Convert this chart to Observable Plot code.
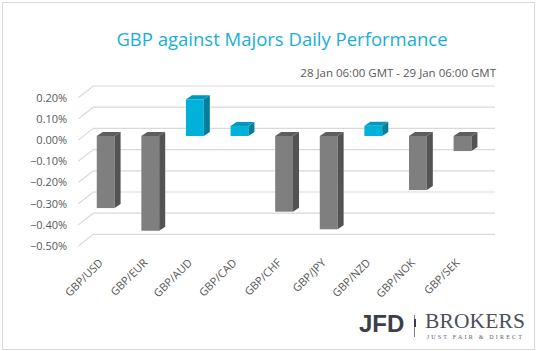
<!DOCTYPE html>
<html>
<head>
<meta charset="utf-8">
<script src="https://cdn.jsdelivr.net/npm/d3@7"></script>
<script src="https://cdn.jsdelivr.net/npm/@observablehq/plot@0.6"></script>
<style>
  html, body { margin: 0; padding: 0; background: #fff; }
  #wrap { position: relative; width: 538px; height: 351px; overflow: hidden; background: #fff; font-family: "Open Sans", sans-serif; }
  #frame { position: absolute; left: 2px; top: 2px; width: 531px; height: 346px; border: 1px solid #d9d9d9; }
  #title { position: absolute; left: 282px; top: 30px; transform: translateX(-50%); white-space: nowrap; font-size: 18.5px; line-height: 1; color: #17aed8; }
  #subtitle { position: absolute; right: 42px; top: 67px; white-space: nowrap; font-size: 11.5px; line-height: 1; color: #595959; }
  #chart { position: absolute; left: 0; top: 80px; }
  .logo { position: absolute; white-space: nowrap; line-height: 1; }
  #jfd { left: 359px; top: 311.7px; font-family: "Liberation Sans", Arial, sans-serif; font-weight: bold; font-size: 24px; color: #3b4048; }
  #sep1 { position: absolute; left: 414px; top: 315px; width: 1px; height: 22px; background: #7a7f87; }
  #sep2 { position: absolute; left: 413.5px; top: 319px; width: 2px; height: 8px; background: #3b4048; }
  #brokers { left: 425px; top: 311px; font-family: "Liberation Serif", "Times New Roman", serif; font-size: 21.5px; color: #4b5059; }
  #tag { left: 426.7px; top: 334.3px; font-family: "Liberation Serif", "Times New Roman", serif; font-size: 6px; color: #5b6069; }
</style>
</head>
<body>
<div id="wrap">
  <div id="frame"></div>
  <div id="title">GBP against Majors Daily Performance</div>
  <div id="subtitle">28 Jan 06:00 GMT - 29 Jan 06:00 GMT</div>
  <div id="chart"></div>
  <div class="logo" id="jfd">JFD</div>
  <div id="sep1"></div>
  <div id="sep2"></div>
  <div class="logo" id="brokers">BROKERS</div>
  <div class="logo" id="tag">JUST FAIR &amp; DIRECT</div>
</div>
<script>
// ---- data ----
const pairs = ["GBP/USD", "GBP/EUR", "GBP/AUD", "GBP/CAD", "GBP/CHF", "GBP/JPY", "GBP/NZD", "GBP/NOK", "GBP/SEK"];
const changes = [-0.34, -0.447, 0.173, 0.047, -0.357, -0.44, 0.048, -0.255, -0.071];
const yTicks = [0.2, 0.1, 0, -0.1, -0.2, -0.3, -0.4, -0.5];

// ---- styles ----
const GRID = "#d9d9d9";
const TEXT = "#595959";
const UP = "#00b2da", DOWN = "#7f7f7f";
const shades = {
  [UP]: {side: "#007f9b", top: "#0099bd"},
  [DOWN]: {side: "#535353", top: "#5e5e5e"}
};
const DEPTH_X = 6, DEPTH_Y = 4;          // bar depth (pixels)
const WALL_X = 15, WALL_Y = 11.7;        // floor/wall depth (pixels)

const rows = pairs.map((pair, i) => ({pair, change: changes[i]}));
const fmt = d => d3.format(".2f")(d) + "%";

function gridRender(index, scales, values, dims) {
  const x0 = dims.marginLeft + 8.3;
  const x1 = x0 + WALL_X;
  const x2 = dims.width - dims.marginRight - 3.2;
  const g = d3.create("svg:g").attr("fill", "none").attr("stroke", GRID).attr("stroke-width", 1.2);
  for (const i of index) {
    const y = values.y[i];
    g.append("path").attr("d", `M${x0},${y + 4.1}L${x1},${y + 4.1 - WALL_Y}H${x2}`);
  }
  return g.node();
}

function barRender(index, scales, values, dims, context, next) {
  const g = next(index, scales, values, dims, context);
  const rects = Array.from(g.querySelectorAll("rect"));
  const sel = d3.select(g);
  for (const r of rects) {
    const x = +r.getAttribute("x"), y = +r.getAttribute("y");
    const w = +r.getAttribute("width"), h = +r.getAttribute("height");
    const fill = r.getAttribute("fill");
    const s = shades[fill] || {side: d3.color(fill).darker(1.2), top: d3.color(fill).darker(0.8)};
    sel.append("path").attr("fill", s.side)
      .attr("d", `M${x + w},${y}L${x + w + DEPTH_X},${y - DEPTH_Y}V${y + h - DEPTH_Y}L${x + w},${y + h}Z`);
    sel.append("path").attr("fill", s.top)
      .attr("d", `M${x},${y}L${x + DEPTH_X},${y - DEPTH_Y}H${x + w + DEPTH_X}L${x + w},${y}Z`);
  }
  return g;
}

const chart = Plot.plot({
  width: 538,
  height: 271,
  marginLeft: 70,
  marginRight: 39.8,
  marginTop: 13.6,
  marginBottom: 109,
  style: {background: "transparent", fontFamily: "Open Sans, sans-serif", overflow: "visible"},
  x: {type: "band", domain: pairs, padding: 0.6, round: false, axis: null},
  y: {domain: [-0.5, 0.2], axis: null},
  marks: [
    Plot.ruleY(yTicks, {y: d => d, render: gridRender}),
    Plot.text(yTicks, {y: d => d, text: fmt, frameAnchor: "left", textAnchor: "end", dx: -3.3, dy: 4, fill: TEXT, fontSize: 11}),
    Plot.barY(rows, {x: "pair", y: "change", fill: d => d.change >= 0 ? UP : DOWN, render: barRender}),
    Plot.text(pairs, {x: d => d, text: d => d, frameAnchor: "bottom", rotate: -45, textAnchor: "end", lineAnchor: "bottom", dx: -2.6, dy: 21, fill: TEXT, fontSize: 11})
  ]
});
document.getElementById("chart").appendChild(chart);

// stretch logo words to their widths in the reference
function stretch(id, target) {
  const el = document.getElementById(id);
  const natural = el.getBoundingClientRect().width;
  const n = el.textContent.length;
  el.style.letterSpacing = ((target - natural) / n) + "px";
}
stretch("brokers", 100);
stretch("tag", 97.5);
</script>
</body>
</html>
